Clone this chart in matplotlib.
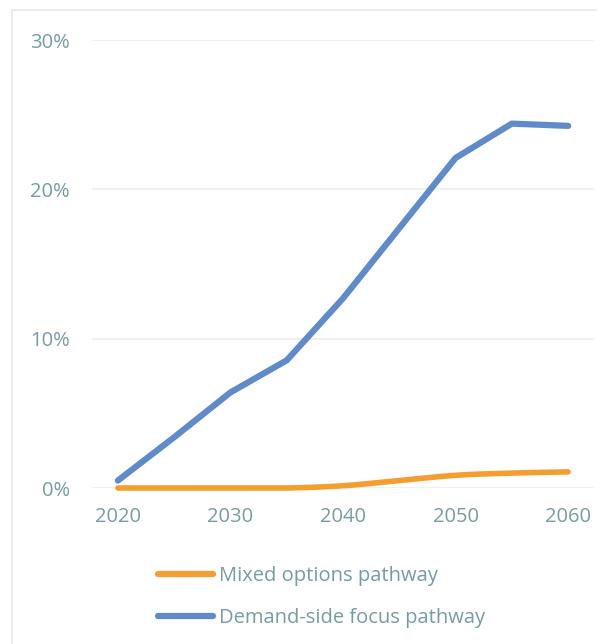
import numpy as np
import matplotlib.pyplot as plt
from matplotlib.lines import Line2D
from matplotlib.patches import Rectangle

plt.rcParams['font.family'] = ['Open Sans', 'DejaVu Sans']

years = [2020, 2025, 2030, 2035, 2040, 2045, 2050, 2055, 2060]
mixed = [0.0, 0.0, 0.0, 0.0, 0.15, 0.5, 0.85, 1.0, 1.08]
demand = [0.5, 3.4, 6.4, 8.55, 12.7, 17.4, 22.1, 24.4, 24.25]
series_names = ['Mixed options pathway', 'Demand-side focus pathway']
xticks = [2020, 2030, 2040, 2050, 2060]
yticks = [0, 10, 20, 30]

text_col = '#769CA4'
grid_col = '#EDF1F1'
orange = '#F59D2E'
blue = '#5F8BCB'


def smooth(x, y, n=20):
    # catmull-rom style smoothing for drawing the curve
    x = np.asarray(x, float)
    y = np.asarray(y, float)
    px = np.concatenate([[2 * x[0] - x[1]], x, [2 * x[-1] - x[-2]]])
    py = np.concatenate([[2 * y[0] - y[1]], y, [2 * y[-1] - y[-2]]])
    xs, ys = [], []
    t = np.linspace(0, 1, n, endpoint=False)
    for i in range(1, len(px) - 2):
        for p, out in ((px, xs), (py, ys)):
            p0, p1, p2, p3 = p[i - 1], p[i], p[i + 1], p[i + 2]
            out.extend(0.5 * ((2 * p1) + (-p0 + p2) * t
                              + (2 * p0 - 5 * p1 + 4 * p2 - p3) * t ** 2
                              + (-p0 + 3 * p1 - 3 * p2 + p3) * t ** 3))
    xs.append(x[-1])
    ys.append(y[-1])
    return np.array(xs), np.array(ys)


fig = plt.figure(figsize=(5.97, 6.44), dpi=100)
fig.patches.append(Rectangle((12 / 597, -0.1), 1.2, 634 / 644 + 0.1,
                             transform=fig.transFigure, fill=False,
                             edgecolor='#E6ECEC', linewidth=1.5))

ax = fig.add_axes([92 / 597, 1 - 488 / 644, (594 - 92) / 597, (488 - 40) / 644])

sx, sy = smooth(years, mixed)
sy = np.maximum(sy, 0)
ax.plot(sx, sy, color=orange, linewidth=4, solid_capstyle='round', clip_on=False, zorder=3)
ax.plot(years, demand, color=blue, linewidth=4.5, solid_capstyle='round', clip_on=False, zorder=4)

ax.set_xlim(2017.7, 2062.3)
ax.set_ylim(0, 30)
ax.set_xticks(xticks)
ax.set_yticks(yticks)
ax.set_yticklabels([f'{v}%' for v in yticks])
ax.grid(axis='y', color=grid_col, linewidth=1.5)
ax.set_axisbelow(True)
for s in ax.spines.values():
    s.set_visible(False)
ax.tick_params(length=0, colors=text_col, labelsize=14.5)
ax.tick_params(axis='y', pad=16)
ax.tick_params(axis='x', pad=14)

handles = [Line2D([], [], color=orange, linewidth=4.5, solid_capstyle='round'),
           Line2D([], [], color=blue, linewidth=4.5, solid_capstyle='round')]
leg = fig.legend(handles, series_names, loc='upper left',
                 bbox_to_anchor=(150 / 597, 1 - 558 / 644), frameon=False,
                 fontsize=14.5, handlelength=2.75, handletextpad=0.3,
                 labelspacing=1.1, borderaxespad=0)
for t in leg.get_texts():
    t.set_color(text_col)

fig.savefig('out.png', dpi=100)
